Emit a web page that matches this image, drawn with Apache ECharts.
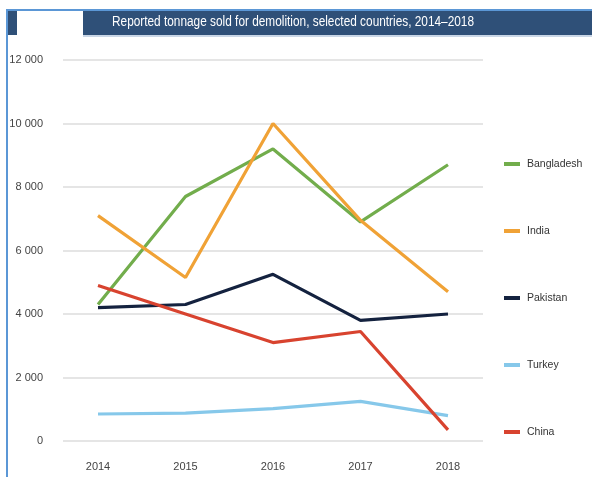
<!DOCTYPE html>
<html>
<head>
<meta charset="utf-8">
<script src="https://cdn.jsdelivr.net/npm/echarts@6/dist/echarts.min.js"></script>
<style>
  html, body { margin: 0; padding: 0; background: #ffffff; }
  #chart { width: 592px; height: 477px; }
</style>
</head>
<body>
<div id="chart"></div>
<script>
// Years on the horizontal axis
const years = [2014, 2015, 2016, 2017, 2018];
// Reported tonnage sold for demolition, by country
const bangladesh = [4300, 7700, 9200, 6900, 8700];
const india = [7100, 5150, 10000, 6950, 4700];
const pakistan = [4200, 4300, 5250, 3800, 4000];
const turkey = [850, 880, 1020, 1250, 800];
const china = [4900, 4000, 3100, 3450, 350];
// Vertical axis ticks
const yTicks = [0, 2000, 4000, 6000, 8000, 10000, 12000];

const titleText = 'Reported tonnage sold for demolition, selected countries, 2014\u20132018';
const sansFamily = '"Liberation Sans", Arial, sans-serif';
const titleFont = '14px ' + sansFamily;

const countries = [
  { name: 'Bangladesh', values: bangladesh, color: '#72ad4c' },
  { name: 'India', values: india, color: '#f0a236' },
  { name: 'Pakistan', values: pakistan, color: '#14223f' },
  { name: 'Turkey', values: turkey, color: '#86c8ea' },
  { name: 'China', values: china, color: '#d8432f' }
];

const fmt = v => {
  const s = String(v);
  return s.length > 3 ? s.slice(0, s.length - 3) + ' ' + s.slice(-3) : s;
};

// The header uses a condensed face; squeeze the title to its band width.
const titleWidth = 362;
const measureCtx = document.createElement('canvas').getContext('2d');
measureCtx.font = titleFont;
const titleScale = Math.min(1, titleWidth / measureCtx.measureText(titleText).width);

const chart = echarts.init(document.getElementById('chart'), null, { renderer: 'canvas' });

chart.setOption({
  backgroundColor: '#ffffff',
  animation: false,
  graphic: [
    // header band
    { type: 'rect', shape: { x: 6, y: 9, width: 586, height: 2 }, style: { fill: '#5b97d6' }, silent: true },
    { type: 'rect', shape: { x: 6, y: 11, width: 586, height: 24 }, style: { fill: '#2f5078' }, silent: true },
    { type: 'rect', shape: { x: 17, y: 11, width: 66, height: 25 }, style: { fill: '#ffffff' }, silent: true },
    { type: 'rect', shape: { x: 83, y: 35, width: 509, height: 2 }, style: { fill: '#c9d6e6' }, silent: true },
    // left frame line
    { type: 'rect', shape: { x: 6, y: 9, width: 2, height: 468 }, style: { fill: '#5b97d6' }, silent: true },
    {
      type: 'text', x: 112, y: 15, scaleX: titleScale, scaleY: 1,
      style: { text: titleText, fill: '#ffffff', font: titleFont }
    }
  ],
  grid: { left: 63, right: 109, top: 60, bottom: 36 },
  legend: {
    orient: 'vertical',
    left: 499,
    top: 152,
    itemGap: 53,
    itemWidth: 16,
    itemHeight: 4,
    icon: 'rect',
    data: countries.map(c => c.name),
    textStyle: { fontFamily: sansFamily, fontSize: 10.5, color: '#333333', lineHeight: 14, padding: [0, 0, 0, 2] }
  },
  xAxis: {
    type: 'value',
    min: 2013.6,
    max: 2018.4,
    axisLine: { show: false },
    axisTick: { show: false },
    splitLine: { show: false },
    axisLabel: {
      customValues: years,
      formatter: v => String(Math.round(v)),
      margin: 20,
      color: '#444444',
      fontFamily: sansFamily,
      fontSize: 11
    }
  },
  yAxis: {
    type: 'value',
    min: 0,
    max: 12000,
    interval: 2000,
    axisLine: { show: false },
    axisTick: { show: false },
    splitLine: { lineStyle: { color: '#dcdcdc', width: 1.5 } },
    axisLabel: {
      customValues: yTicks,
      formatter: v => fmt(v),
      margin: 20,
      color: '#444444',
      fontFamily: sansFamily,
      fontSize: 11
    }
  },
  series: countries.map(c => ({
    name: c.name,
    type: 'line',
    data: years.map((y, i) => [y, c.values[i]]),
    showSymbol: false,
    symbol: 'none',
    color: c.color,
    lineStyle: { color: c.color, width: 3.2 },
    z: 2
  }))
});
</script>
</body>
</html>
